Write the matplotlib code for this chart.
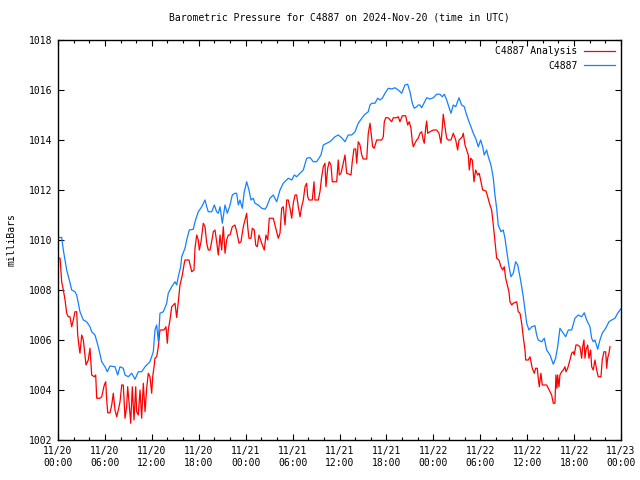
import matplotlib
matplotlib.use("Agg")
import matplotlib.pyplot as plt
import numpy as np

# time axis in hours since 2024-11-20 00:00 UTC
tick_hours = [0, 6, 12, 18, 24, 30, 36, 42, 48, 54, 60, 66, 72]
tick_labels = ["11/20\n00:00", "11/20\n06:00", "11/20\n12:00", "11/20\n18:00",
               "11/21\n00:00", "11/21\n06:00", "11/21\n12:00", "11/21\n18:00",
               "11/22\n00:00", "11/22\n06:00", "11/22\n12:00", "11/22\n18:00",
               "11/23\n00:00"]

# C4887 (station reading)
obs_hours = [0.0, 0.47, 0.68, 1.11, 1.53, 1.75, 2.17, 2.39, 2.81, 3.24, 3.67, 4.09, 4.31,
             4.73, 5.15, 5.59, 6.01, 6.30, 6.65, 7.29, 7.63, 7.93, 8.35, 8.57, 8.99, 9.42,
             9.85, 10.27, 10.70, 11.13, 11.76, 12.19, 12.40, 12.62, 12.83, 13.04, 13.47,
             13.90, 14.10, 14.54, 14.96, 15.18, 15.38, 15.69, 15.82, 16.24, 16.46, 16.79,
             17.30, 17.52, 17.94, 18.38, 18.80, 19.02, 19.22, 19.65, 19.99, 20.29, 20.50,
             20.72, 21.01, 21.36, 21.65, 22.00, 22.29, 22.63, 22.85, 23.06, 23.27, 23.57,
             23.82, 24.13, 24.42, 24.68, 24.97, 25.19, 25.61, 26.05, 26.47, 26.69, 27.11,
             27.53, 27.97, 28.39, 28.81, 29.45, 29.89, 30.22, 30.52, 30.95, 31.37, 31.80,
             32.23, 32.65, 33.08, 33.63, 33.93, 34.36, 34.78, 35.42, 35.84, 36.28, 36.70,
             37.12, 37.56, 37.98, 38.40, 38.84, 39.26, 39.68, 39.90, 40.12, 40.54, 40.88,
             41.18, 41.47, 41.82, 42.24, 42.67, 43.09, 43.52, 43.95, 44.37, 44.72, 45.01,
             45.31, 45.56, 45.87, 46.07, 46.29, 46.51, 47.15, 47.57, 47.99, 48.43, 48.85,
             49.14, 49.40, 49.71, 49.91, 50.26, 50.55, 50.86, 51.28, 51.62, 51.96, 52.26,
             52.56, 52.81, 53.11, 53.41, 53.75, 54.05, 54.31, 54.51, 54.82, 55.03, 55.37,
             55.67, 55.88, 56.10, 56.30, 56.65, 56.94, 57.16, 57.46, 57.72, 57.93, 58.22,
             58.53, 58.79, 59.08, 59.30, 59.50, 59.72, 59.94, 60.23, 60.58, 61.00, 61.21,
             61.42, 61.85, 62.19, 62.49, 62.92, 63.34, 63.64, 63.90, 64.19, 64.49, 64.92,
             65.26, 65.69, 66.11, 66.53, 66.97, 67.30, 67.61, 68.03, 68.25, 68.45, 68.67,
             69.02, 69.31, 69.60, 70.04, 70.46, 70.81, 71.23, 71.57, 71.87, 72.0]
obs_mbar = [1010.10, 1010.10, 1009.60, 1008.80, 1008.30, 1008.00, 1007.93, 1007.80, 1007.13,
            1006.80, 1006.73, 1006.53, 1006.33, 1006.20, 1005.73, 1005.13, 1004.93, 1004.73,
            1004.96, 1004.93, 1004.60, 1004.93, 1004.87, 1004.60, 1004.53, 1004.67, 1004.43,
            1004.73, 1004.73, 1004.93, 1005.13, 1005.53, 1006.40, 1006.60, 1005.95, 1007.07,
            1007.13, 1007.47, 1007.87, 1008.13, 1008.33, 1008.20, 1008.53, 1008.93, 1009.33,
            1009.67, 1010.00, 1010.40, 1010.43, 1010.73, 1011.13, 1011.33, 1011.60, 1011.33,
            1011.13, 1011.13, 1011.40, 1011.13, 1011.07, 1011.33, 1010.67, 1011.40, 1011.07,
            1011.40, 1011.80, 1011.87, 1011.87, 1011.40, 1011.60, 1011.27, 1011.93, 1012.33,
            1012.00, 1011.60, 1011.67, 1011.47, 1011.40, 1011.27, 1011.23, 1011.33, 1011.67,
            1011.80, 1011.53, 1012.00, 1012.27, 1012.47, 1012.40, 1012.60, 1012.53, 1012.67,
            1012.80, 1013.27, 1013.30, 1013.13, 1013.13, 1013.40, 1013.80, 1013.87, 1013.93,
            1014.13, 1014.20, 1014.09, 1013.93, 1014.20, 1014.20, 1014.33, 1014.67, 1014.87,
            1015.03, 1015.13, 1015.40, 1015.47, 1015.47, 1015.67, 1015.60, 1015.67, 1015.87,
            1016.07, 1016.04, 1016.09, 1016.00, 1015.87, 1016.20, 1016.23, 1015.93, 1015.47,
            1015.27, 1015.33, 1015.40, 1015.40, 1015.29, 1015.69, 1015.64, 1015.69, 1015.83,
            1015.83, 1015.73, 1015.83, 1015.60, 1015.40, 1015.07, 1015.40, 1015.33, 1015.69,
            1015.40, 1015.33, 1015.00, 1014.73, 1014.53, 1014.27, 1014.07, 1013.73, 1014.00,
            1013.73, 1013.40, 1013.60, 1013.33, 1013.00, 1012.47, 1011.80, 1011.27, 1010.60,
            1010.33, 1010.40, 1010.07, 1009.40, 1008.87, 1008.53, 1008.67, 1009.13, 1009.00,
            1008.53, 1008.13, 1007.73, 1007.20, 1006.67, 1006.40, 1006.53, 1006.57, 1006.20,
            1006.00, 1005.93, 1006.07, 1005.60, 1005.40, 1005.03, 1005.27, 1005.73, 1006.47,
            1006.33, 1006.13, 1006.40, 1006.40, 1006.87, 1007.00, 1006.93, 1007.09, 1006.80,
            1006.53, 1006.07, 1005.93, 1006.00, 1005.63, 1006.00, 1006.27, 1006.47, 1006.73,
            1006.80, 1006.87, 1007.07, 1007.20, 1007.25]

# C4887 Analysis
ana_hours = [0.04, 0.26, 0.47, 0.68, 0.90, 1.11, 1.32, 1.53, 1.75, 1.96, 2.17, 2.39, 2.52,
             2.69, 2.81, 3.03, 3.24, 3.45, 3.58, 3.87, 4.09, 4.31, 4.64, 4.82, 4.95, 5.37,
             5.59, 5.92, 6.10, 6.23, 6.36, 6.65, 6.87, 7.07, 7.29, 7.51, 7.71, 7.93, 8.15,
             8.35, 8.57, 8.78, 8.91, 9.08, 9.30, 9.50, 9.72, 9.94, 10.06, 10.27, 10.49, 10.70,
             10.91, 11.13, 11.34, 11.55, 11.76, 11.98, 12.11, 12.28, 12.40, 12.62, 12.83,
             13.04, 13.55, 13.81, 13.98, 14.10, 14.32, 14.54, 14.96, 15.18, 15.38, 15.60,
             15.90, 16.15, 16.24, 16.75, 17.10, 17.39, 17.52, 17.74, 17.94, 18.07, 18.29,
             18.58, 18.80, 19.02, 19.22, 19.44, 19.65, 19.86, 20.08, 20.29, 20.50, 20.72,
             20.93, 21.14, 21.36, 21.57, 21.78, 22.00, 22.29, 22.63, 22.85, 23.15, 23.40,
             23.70, 23.91, 24.13, 24.26, 24.42, 24.68, 24.85, 25.10, 25.28, 25.49, 25.70,
             25.92, 26.13, 26.38, 26.60, 26.82, 27.02, 27.53, 27.75, 28.17, 28.39, 28.61,
             28.81, 29.03, 29.25, 29.45, 29.67, 29.89, 30.09, 30.31, 30.52, 30.73, 30.95,
             31.16, 31.37, 31.59, 31.80, 31.93, 32.10, 32.52, 32.74, 32.86, 33.29, 33.50,
             33.72, 33.93, 34.14, 34.27, 34.49, 34.69, 34.91, 35.08, 35.64, 35.84, 35.97,
             36.19, 36.48, 36.70, 36.92, 37.47, 37.63, 37.85, 38.07, 38.20, 38.40, 38.62,
             38.84, 39.04, 39.48, 39.68, 39.90, 40.24, 40.45, 40.75, 41.39, 41.60, 41.73,
             41.91, 42.24, 42.67, 42.88, 43.31, 43.52, 43.73, 44.03, 44.46, 44.72, 44.92,
             45.14, 45.31, 45.44, 45.65, 45.87, 46.07, 46.29, 46.51, 46.71, 46.84, 47.02,
             47.15, 47.28, 47.57, 47.99, 48.43, 48.72, 48.98, 49.14, 49.27, 49.40, 49.58,
             49.71, 49.91, 50.26, 50.55, 50.86, 51.11, 51.28, 51.53, 51.70, 51.83, 52.05,
             52.26, 52.47, 52.60, 52.78, 52.98, 53.20, 53.41, 53.67, 53.87, 54.09, 54.31,
             54.73, 54.95, 55.24, 55.46, 55.67, 55.88, 56.10, 56.39, 56.65, 56.87, 57.07,
             57.25, 57.46, 57.67, 57.80, 58.02, 58.22, 58.66, 58.86, 59.08, 59.30, 59.50,
             59.72, 59.81, 60.14, 60.36, 60.65, 60.91, 61.09, 61.29, 61.42, 61.55, 61.76,
             61.93, 62.49, 62.70, 62.92, 63.13, 63.34, 63.55, 63.68, 63.81, 63.90, 64.07,
             64.19, 64.41, 64.62, 64.83, 64.96, 65.18, 65.47, 65.69, 65.90, 66.02, 66.24,
             66.46, 66.75, 66.97, 67.10, 67.26, 67.39, 67.52, 67.74, 67.90, 68.12, 68.25,
             68.45, 68.67, 68.89, 69.09, 69.44, 69.60, 69.82, 70.04, 70.17, 70.29, 70.46,
             70.59]
ana_mbar = [1009.27, 1009.27, 1008.33, 1008.00, 1007.60, 1007.07, 1006.93, 1006.93, 1006.53,
            1006.80, 1007.13, 1007.13, 1006.20, 1005.73, 1005.47, 1006.20, 1006.00, 1005.40,
            1005.00, 1005.20, 1005.67, 1004.60, 1004.53, 1004.60, 1003.67, 1003.67, 1003.73,
            1004.20, 1004.33, 1003.60, 1003.09, 1003.09, 1003.40, 1003.87, 1003.20, 1002.93,
            1003.20, 1003.53, 1004.20, 1004.20, 1002.87, 1003.33, 1004.13, 1003.53, 1002.67,
            1004.13, 1002.80, 1004.13, 1003.13, 1003.00, 1004.00, 1002.87, 1004.27, 1003.13,
            1004.07, 1004.67, 1004.53, 1003.87, 1004.53, 1004.93, 1005.27, 1005.33, 1005.73,
            1006.40, 1006.40, 1006.53, 1005.87, 1006.40, 1006.80, 1007.33, 1007.47, 1006.90,
            1007.53, 1008.20, 1008.60, 1009.07, 1009.20, 1009.20, 1008.73, 1008.80, 1009.67,
            1010.20, 1010.00, 1009.60, 1009.93, 1010.67, 1010.53, 1009.87, 1009.60, 1009.60,
            1009.93, 1010.33, 1010.40, 1009.93, 1009.40, 1010.20, 1009.60, 1010.53, 1009.47,
            1010.00, 1010.20, 1010.20, 1010.53, 1010.60, 1010.33, 1009.87, 1009.93, 1010.53,
            1010.80, 1011.07, 1010.53, 1010.07, 1010.07, 1010.47, 1010.40, 1009.80, 1009.73,
            1010.20, 1010.00, 1009.80, 1009.60, 1010.20, 1010.00, 1010.87, 1010.87, 1010.60,
            1010.07, 1010.27, 1011.27, 1011.33, 1010.60, 1011.60, 1011.60, 1011.27, 1010.87,
            1011.47, 1011.80, 1011.80, 1011.33, 1010.93, 1011.33, 1011.60, 1012.13, 1012.27,
            1011.73, 1011.60, 1011.60, 1012.33, 1011.60, 1011.60, 1011.93, 1012.53, 1012.93,
            1013.07, 1012.13, 1012.87, 1013.13, 1013.00, 1012.33, 1012.33, 1013.20, 1012.60,
            1012.67, 1013.07, 1013.40, 1012.67, 1012.60, 1013.13, 1013.64, 1013.64, 1013.07,
            1013.93, 1013.80, 1013.40, 1013.24, 1013.24, 1014.27, 1014.67, 1013.73, 1013.67,
            1014.00, 1014.00, 1014.13, 1014.73, 1014.89, 1014.89, 1014.73, 1014.89, 1014.89,
            1014.93, 1014.73, 1014.97, 1014.97, 1014.60, 1014.73, 1014.47, 1013.93, 1013.73,
            1013.87, 1014.00, 1014.07, 1014.27, 1014.33, 1014.00, 1013.87, 1014.47, 1014.76,
            1014.27, 1014.33, 1014.40, 1014.40, 1014.27, 1013.87, 1014.47, 1015.03, 1014.73,
            1014.33, 1014.07, 1014.00, 1014.00, 1014.27, 1014.00, 1013.60, 1014.00, 1014.07,
            1014.13, 1014.27, 1013.80, 1013.60, 1013.40, 1012.80, 1013.27, 1013.20, 1012.33,
            1012.80, 1012.60, 1012.67, 1012.33, 1012.00, 1011.96, 1011.73, 1011.40, 1011.20,
            1010.60, 1009.93, 1009.27, 1009.20, 1008.93, 1008.80, 1008.93, 1008.47, 1008.20,
            1007.93, 1007.53, 1007.40, 1007.47, 1007.53, 1007.13, 1007.07, 1006.67, 1006.13,
            1005.60, 1005.20, 1005.20, 1005.33, 1004.87, 1004.67, 1004.87, 1004.87, 1004.47,
            1004.13, 1004.67, 1004.20, 1004.20, 1004.07, 1003.93, 1003.80, 1003.47, 1003.47,
            1004.60, 1004.07, 1004.60, 1004.13, 1004.60, 1004.73, 1004.80, 1004.93, 1004.73,
            1004.87, 1005.20, 1005.47, 1005.53, 1005.40, 1005.80, 1005.80, 1005.73, 1005.27,
            1005.73, 1006.00, 1005.27, 1005.60, 1005.80, 1005.27, 1005.60, 1004.93, 1004.80,
            1005.20, 1004.80, 1004.53, 1004.53, 1005.20, 1005.53, 1005.53, 1004.87, 1005.27,
            1005.47, 1005.73]

FONT = "DejaVu Sans Mono"
FS = 7.0

fig = plt.figure(figsize=(6.4, 4.8), dpi=100)
ax = fig.add_axes([58 / 640, 40 / 480, 563 / 640, 400 / 480])

ax.plot(ana_hours, ana_mbar, color="#ff0000", lw=0.9, label="C4887 Analysis")
ax.plot(obs_hours, obs_mbar, color="#1580ff", lw=0.9, label="C4887")

ax.set_xlim(0, 72)
ax.set_ylim(1002, 1018)
ax.set_xticks(tick_hours)
ax.set_xticklabels(tick_labels, fontfamily=FONT, fontsize=FS, linespacing=1.25)
ax.set_xticks(np.arange(0, 73, 2), minor=True)
ax.set_yticks(np.arange(1002, 1019, 2))
ax.set_yticklabels([str(v) for v in range(1002, 1019, 2)], fontfamily=FONT, fontsize=FS)

ax.tick_params(which="both", direction="in", top=True, right=True, width=0.8, pad=4)
ax.tick_params(which="major", length=4)
ax.tick_params(which="minor", length=2.2)
for s in ax.spines.values():
    s.set_linewidth(1.0)

ax.set_ylabel("milliBars", fontfamily=FONT, fontsize=FS, labelpad=9)
ax.set_title("Barometric Pressure for C4887 on 2024-Nov-20 (time in UTC)",
             fontfamily=FONT, fontsize=FS, pad=14)

leg = ax.legend(loc="upper right", frameon=False, markerfirst=False,
                prop={"family": FONT, "size": FS}, handlelength=3.2,
                handletextpad=0.6, labelspacing=0.45, borderaxespad=0.25)

fig.savefig("out.png", dpi=100)
